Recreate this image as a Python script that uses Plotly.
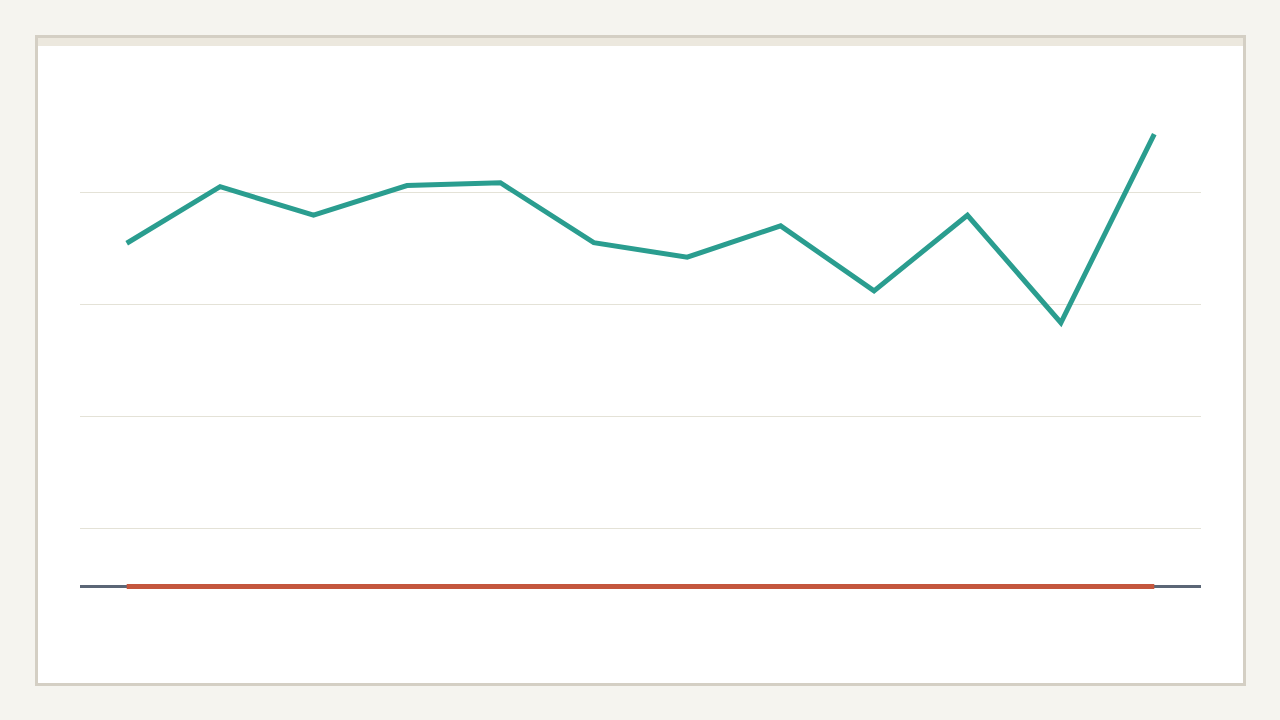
import plotly.graph_objects as go

# Data
periods = list(range(12))
series_main = [61.3, 71.4, 66.3, 71.6, 72.1, 61.4, 58.8, 64.4, 52.8, 66.3, 47.1, 80.8]
series_base = [0, 0, 0, 0, 0, 0, 0, 0, 0, 0, 0, 0]
grid_vals = [10.45, 30.45, 50.45, 70.45]

W, H = 1280, 720
L, R, T, B = 80, 79, 80, 80
pw, ph = W - L - R, H - T - B

def px(x):
    return (x - L) / pw

def py(y):
    return (H - B - y) / ph

fig = go.Figure()
fig.add_trace(go.Scatter(x=periods, y=series_base, mode="lines",
                         line=dict(color="#c4563d", width=5), hoverinfo="skip"))
fig.add_trace(go.Scatter(x=periods, y=series_main, mode="lines",
                         line=dict(color="#2a9d8f", width=5), hoverinfo="skip"))

shapes = [
    dict(type="rect", xref="paper", yref="paper", layer="below",
         x0=px(36.5), x1=px(1244.5), y0=py(684.5), y1=py(36.5),
         fillcolor="#ffffff", line=dict(color="#d4cfc4", width=3)),
    dict(type="rect", xref="paper", yref="paper", layer="below",
         x0=px(38), x1=px(1243), y0=py(46), y1=py(38),
         fillcolor="#ece8de", line=dict(width=0)),
]

fig.update_layout(
    width=W, height=H,
    margin=dict(l=L, r=R, t=T, b=B),
    paper_bgcolor="#f5f4ef",
    plot_bgcolor="rgba(0,0,0,0)",
    showlegend=False,
    hovermode=False,
    shapes=shapes,
    xaxis=dict(range=[-0.5, 11.5], showgrid=False, zeroline=False,
               showticklabels=False, showline=False, ticks=""),
    yaxis=dict(range=[-9.55, 90.45], tickmode="array", tickvals=grid_vals,
               showticklabels=False, showgrid=True, gridcolor="#e4e2d7", gridwidth=1,
               zeroline=True, zerolinecolor="#5b6676", zerolinewidth=3,
               showline=False, ticks=""),
)

post = ("document.body.style.margin='0';document.body.style.padding='0';"
        "document.body.style.overflow='hidden';"
        "document.body.style.background='#f5f4ef';")
fig.write_html("out.html", post_script=post, config={"displayModeBar": False})
